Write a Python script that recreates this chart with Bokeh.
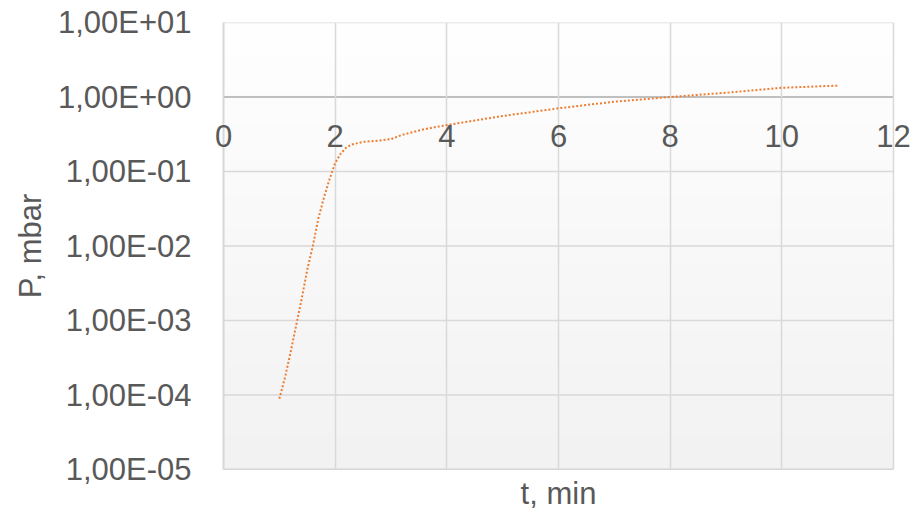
import numpy as np
from bokeh.plotting import figure
from bokeh.models import FixedTicker, Range1d, LinearAxis
from bokeh.embed import file_html
from bokeh.resources import INLINE

# ---- data ----
t_min = [1.0, 1.1, 1.2, 1.3, 1.4, 1.5, 1.6, 1.7, 1.8, 1.9, 2.0, 2.1, 2.2, 2.3,
         2.5, 2.8, 3.0, 3.2, 3.6, 4.0, 5.0, 6.0, 7.0, 8.0, 9.0, 10.0, 11.0]
p_mbar = [8.9e-5, 1.7e-4, 3.7e-4, 8.5e-4, 1.95e-3, 4.8e-3, 1.0e-2, 2.35e-2, 4.5e-2,
          7.9e-2, 0.13, 0.174, 0.21, 0.23, 0.25, 0.26, 0.272, 0.31, 0.37, 0.42,
          0.556, 0.705, 0.865, 1.0, 1.14, 1.33, 1.42]

x_ticks = [0, 2, 4, 6, 8, 10, 12]
x_tick_labels = ["0", "2", "4", "6", "8", "10", "12"]
y_ticks = [1e-5, 1e-4, 1e-3, 1e-2, 1e-1, 1e0, 1e1]
y_tick_labels = ["1,00E-05", "1,00E-04", "1,00E-03", "1,00E-02",
                 "1,00E-01", "1,00E+00", "1,00E+01"]
x_start, x_end = 0, 12
y_start, y_end = 1e-5, 1e1
x_axis_cross = 1.0
x_title = "t, min"
y_title = "P, mbar"

FONT = "Liberation Sans"
FS = "31px"
TXT = "#595959"
GRID = "#d9d9d9"
BORDER = "#c4c4c4"

# plot area 670 px wide; the frame is padded left/right so that the
# tick labels at the ends of the crossing axis are not clipped
plot_w, plot_h = 670, 447
pad_px = 22
pad = pad_px * (x_end - x_start) / plot_w

p = figure(frame_width=plot_w + 2 * pad_px, frame_height=plot_h,
           y_axis_type="log",
           x_range=Range1d(x_start - pad, x_end + pad),
           y_range=Range1d(y_start, y_end),
           output_backend="svg", toolbar_location=None,
           min_border_left=223 - pad_px, min_border_right=27 - pad_px,
           min_border_top=22, min_border_bottom=45)
p.background_fill_color = "white"
p.border_fill_color = "white"
p.outline_line_color = None

# background gradient (white at top -> light gray at bottom)
n = 256
g = np.linspace(0xF2, 0xFF, n).astype(np.uint8)
img = np.empty((n, 1), dtype=np.uint32)
view = img.view(dtype=np.uint8).reshape((n, 1, 4))
view[:, 0, 0] = g
view[:, 0, 1] = g
view[:, 0, 2] = g
view[:, 0, 3] = 255
p.image_rgba(image=[img], x=x_start, y=y_start, dw=x_end - x_start,
             dh=y_end - y_start, level="image")

# vertical grid lines
p.xgrid.ticker = FixedTicker(ticks=x_ticks)
p.xgrid.grid_line_color = GRID
p.xgrid.grid_line_width = 1.5
p.xgrid.minor_grid_line_color = None
# horizontal grid lines limited to the plot area
p.ygrid.grid_line_color = None
p.ygrid.minor_grid_line_color = None
p.segment(x0=[x_start] * len(y_ticks), x1=[x_end] * len(y_ticks),
          y0=y_ticks, y1=y_ticks, line_color=GRID, line_width=1.5,
          level="underlay")
# left and bottom borders
p.segment(x0=[x_start], x1=[x_start], y0=[y_start], y1=[y_end],
          line_color=BORDER, line_width=1.5, level="underlay")
p.segment(x0=[x_start], x1=[x_end], y0=[y_start], y1=[y_start],
          line_color=BORDER, line_width=1.5, level="underlay")
# horizontal axis line crossing at P = 1
p.segment(x0=[x_start], x1=[x_end], y0=[x_axis_cross], y1=[x_axis_cross],
          line_color="#bfbfbf", line_width=2, level="underlay")

# y axis
ya = p.yaxis[0]
ya.ticker = FixedTicker(ticks=y_ticks, minor_ticks=[])
ya.major_label_overrides = dict(zip(y_ticks, y_tick_labels))
ya.major_tick_out = 0
ya.major_tick_in = 0
ya.minor_tick_out = 0
ya.minor_tick_in = 0
ya.major_label_standoff = 32 - pad_px
ya.major_label_text_font = FONT
ya.major_label_text_font_size = FS
ya.major_label_text_color = TXT
ya.axis_line_color = None
ya.axis_label = y_title
ya.axis_label_text_font = FONT
ya.axis_label_text_font_size = FS
ya.axis_label_text_font_style = "normal"
ya.axis_label_text_color = TXT
ya.axis_label_standoff = 7

# bottom x axis: title only
xa = p.xaxis[0]
xa.ticker = FixedTicker(ticks=[], minor_ticks=[])
xa.major_tick_out = 0
xa.major_tick_in = 0
xa.minor_tick_out = 0
xa.minor_tick_in = 0
xa.axis_line_color = None
xa.axis_label = x_title
xa.axis_label_text_font = FONT
xa.axis_label_text_font_size = FS
xa.axis_label_text_font_style = "normal"
xa.axis_label_text_color = TXT
xa.axis_label_standoff = 6

# tick labels of the horizontal axis, under the crossing line at P = 1
cross = LinearAxis(fixed_location=x_axis_cross,
                   ticker=FixedTicker(ticks=x_ticks, minor_ticks=[]),
                   major_label_overrides=dict(zip(x_ticks, x_tick_labels)))
cross.major_tick_out = 0
cross.major_tick_in = 0
cross.minor_tick_out = 0
cross.minor_tick_in = 0
cross.axis_line_color = None
cross.major_label_standoff = 28
cross.major_label_text_font = FONT
cross.major_label_text_font_size = FS
cross.major_label_text_color = TXT
p.add_layout(cross, "below")

# data line
p.line(t_min, p_mbar, line_color="#ed7d31", line_width=2, line_dash="2 2")

open("out.html", "w").write(file_html(p, INLINE))
